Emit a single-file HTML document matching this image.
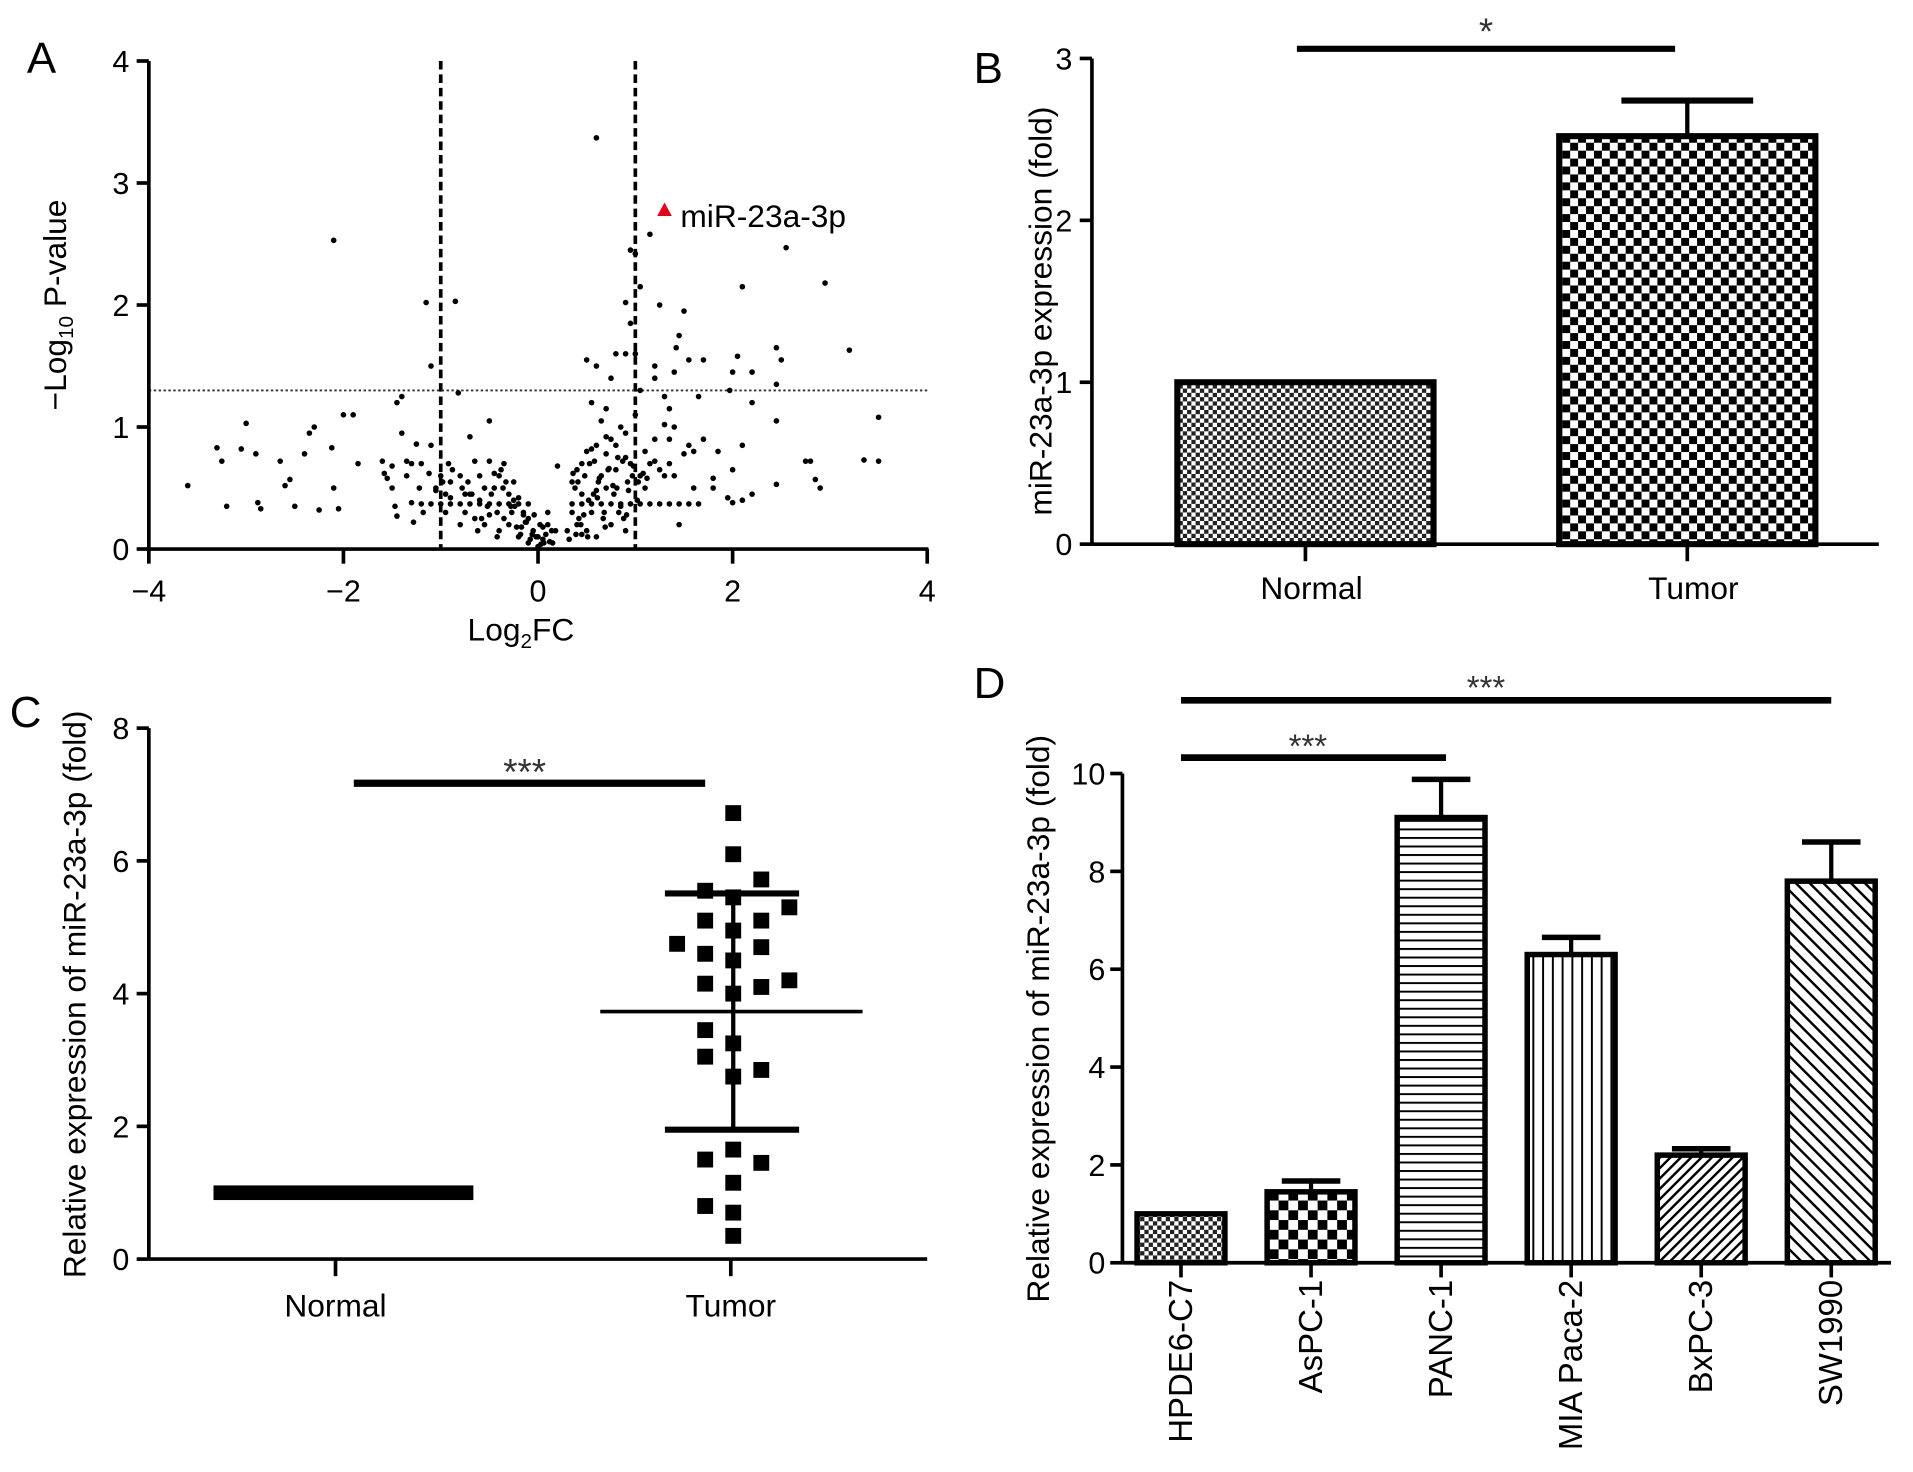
<!DOCTYPE html>
<html><head><meta charset="utf-8"><style>
html,body{margin:0;padding:0;background:#fff;}
svg{display:block;font-family:"Liberation Sans",Arial,sans-serif;}
</style></head><body>
<svg id="fig" width="1913" height="1472" viewBox="0 0 1568 1206.5" preserveAspectRatio="none" xmlns="http://www.w3.org/2000/svg">
<defs>
<pattern id="pFine" width="7" height="7" patternUnits="userSpaceOnUse"><rect width="7" height="7" fill="#fff"/><rect width="3.5" height="3.5" fill="#222"/><rect x="3.5" y="3.5" width="3.5" height="3.5" fill="#222"/></pattern>
<pattern id="pCheck" width="13" height="13" patternUnits="userSpaceOnUse"><rect width="13" height="13" fill="#fff"/><rect width="6.5" height="6.5" fill="#000"/><rect x="6.5" y="6.5" width="6.5" height="6.5" fill="#000"/></pattern>
<pattern id="pCheck2" width="16" height="16" patternUnits="userSpaceOnUse"><rect width="16" height="16" fill="#fff"/><rect width="8" height="8" fill="#000"/><rect x="8" y="8" width="8" height="8" fill="#000"/></pattern>
<pattern id="pHor" width="8" height="7" patternUnits="userSpaceOnUse"><rect width="8" height="7" fill="#fff"/><rect y="0" width="8" height="1.6" fill="#000"/></pattern>
<pattern id="pVer" width="8" height="8" patternUnits="userSpaceOnUse"><rect width="8" height="8" fill="#fff"/><rect width="1.6" height="8" fill="#000"/></pattern>
<pattern id="pDiag" width="6" height="6" patternUnits="userSpaceOnUse" patternTransform="rotate(45)"><rect width="6" height="6" fill="#fff"/><rect width="2" height="6" fill="#000"/></pattern>
<pattern id="pDiag2" width="8" height="8" patternUnits="userSpaceOnUse" patternTransform="rotate(-45)"><rect width="8" height="8" fill="#fff"/><rect width="2" height="8" fill="#000"/></pattern>
</defs>
</svg>
<script>
// ---------- Panel A data ----------
const aXTicks=[-4,-2,0,2,4];
const aYTicks=[0,1,2,3,4];
const volcanoX=[-3.6,-3.3,-3.25,-3.2,-3.05,-3.0,-2.9,-2.88,-2.85,-2.65,-2.6,-2.55,-2.5,-2.4,-2.35,-2.3,-2.25,-2.1,-2.12,-2.1,-2.0,-1.9,-1.85,-2.05,-1.6,-1.58,-1.55,-1.5,-1.45,-1.4,-1.5,-1.47,-1.45,-1.4,-1.35,-1.3,-1.3,-1.28,-1.25,-1.2,-1.15,-1.1,-1.1,-1.05,-1.0,-0.95,-0.9,-0.85,-0.82,-0.8,-0.75,-0.7,-0.65,-0.6,-0.55,-0.5,-0.5,-0.45,-0.42,-0.4,-0.35,-0.3,-0.3,-0.25,-0.2,-0.15,-0.1,-0.05,0,0.05,0.1,0.15,0.2,-0.6,-0.55,-0.48,-0.4,-0.35,-0.28,-0.22,-0.18,-0.12,-0.08,-0.02,0.03,0.08,0.12,0.18,-0.7,-0.65,-0.9,-1.05,-1.12,-0.98,-0.78,-0.62,-0.52,-0.38,-0.25,-0.15,0.0,0.1,
-0.95,-0.88,-0.8,-0.72,-0.68,-0.58,-0.45,-0.42,-0.33,-0.27,-0.2,-0.17,-0.1,-0.06,0.02,0.06,0.14,-1.35,-1.22,-1.18,-0.92,-0.75,-0.5,-0.36,-0.24,-0.13,-0.04,0.05,
0.6,0.9,0.95,0.95,1.0,1.05,1.15,1.25,1.5,1.45,1.42,2.1,2.55,2.95,3.2,2.45,2.5,2.05,2.2,2.0,1.7,1.55,1.4,1.2,1.2,0.9,0.5,0.6,0.75,0.8,1.0,1.3,1.35,1.65,1.97,2.2,2.45,2.45,3.5,3.35,3.5,2.75,2.8,2.85,2.9,2.45,2.2,2.1,2.0,1.95,1.8,1.8,1.85,2.0,2.1,1.7,1.6,1.55,1.5,1.4,1.35,1.3,1.2,1.1,0.9,0.85,0.75,0.7,0.6,0.55,0.5,0.45,0.4,0.35,0.35,0.4,0.45,0.5,0.55,0.6,0.65,0.7,0.75,0.8,0.85,0.9,0.95,1.05,1.1,1.15,1.25,1.3,1.35,1.45,1.0,1.05,0.7,0.55,0.65,0.38,0.42,0.48,0.52,0.58,0.62,0.68,0.72,0.78,0.82,0.88,0.92,0.98,1.02,1.08,1.12,0.3,0.32,0.45,0.6,0.7,0.8,0.9,1.2,1.4,1.6,
0.36,0.41,0.47,0.53,0.57,0.63,0.67,0.73,0.77,0.83,0.87,0.93,0.97,1.03,0.39,0.44,0.51,0.61,0.69,0.81,0.91,
-1.2,-1.1,-1.0,-0.9,-0.8,-0.7,-0.6,-0.5,-0.4,-0.3,-0.2,-0.1,0.35,0.45,0.55,0.65,0.75,0.85,0.95,1.05,1.15,1.25,1.35,1.45,1.55,1.65];
const volcanoY=[0.52,0.83,0.72,0.35,0.82,1.03,0.78,0.38,0.33,0.72,0.52,0.57,0.35,0.78,0.95,1.0,0.32,2.53,0.83,0.5,1.1,1.1,0.7,0.33,0.72,0.62,0.58,0.5,1.2,1.25,0.68,0.35,0.27,0.95,0.72,0.7,0.38,0.22,0.86,0.7,2.02,1.5,0.85,0.5,0.6,0.45,0.55,2.03,1.28,0.6,0.3,0.92,0.72,0.4,0.2,1.05,0.72,0.5,0.3,0.15,0.7,0.45,0.2,0.55,0.1,0.3,0.05,0.15,0.02,0.08,0.2,0.05,0.68,0.6,0.5,0.45,0.6,0.25,0.35,0.18,0.12,0.22,0.08,0.1,0.04,0.12,0.06,0.15,0.45,0.25,0.42,0.48,0.62,0.55,0.5,0.15,0.35,0.65,0.4,0.28,0.1,0.3,
0.3,0.65,0.2,0.55,0.45,0.25,0.62,0.1,0.55,0.3,0.42,0.18,0.25,0.12,0.2,0.05,0.15,0.6,0.5,0.3,0.7,0.45,0.28,0.5,0.35,0.22,0.28,0.18,
3.37,2.02,1.85,2.45,2.42,2.15,2.58,2.0,1.95,1.75,1.65,2.15,2.47,2.18,1.63,1.65,1.55,1.58,1.45,1.45,1.55,1.55,1.45,1.5,1.4,1.6,1.55,1.5,1.4,1.6,1.6,1.25,1.15,1.25,1.3,1.2,1.35,1.05,1.08,0.73,0.72,0.72,0.72,0.57,0.5,0.53,0.45,0.4,0.38,0.42,0.5,0.58,0.8,0.65,0.85,0.9,0.8,0.85,0.78,1.0,0.9,1.02,0.9,0.8,0.75,1.0,0.9,0.92,0.85,0.82,0.8,0.7,0.65,0.55,0.3,0.2,0.45,0.15,0.3,0.1,0.6,0.5,0.2,0.65,0.35,0.15,0.7,0.6,0.5,0.7,0.65,0.6,0.7,0.2,1.1,1.3,1.15,1.2,1.05,0.5,0.25,0.6,0.4,0.72,0.55,0.3,0.65,0.45,0.75,0.25,0.55,0.68,0.4,0.62,0.58,0.15,0.08,0.12,0.48,0.78,0.85,0.95,0.72,0.6,0.5,
0.62,0.55,0.28,0.7,0.45,0.58,0.25,0.66,0.52,0.3,0.72,0.48,0.6,0.55,0.12,0.2,0.1,0.42,0.18,0.5,0.28,
0.37,0.37,0.37,0.37,0.37,0.37,0.37,0.37,0.37,0.37,0.37,0.37,0.37,0.37,0.37,0.37,0.37,0.37,0.37,0.37,0.37,0.37,0.37,0.37,0.37,0.37];
const aThreshX=[-1,1];
const aThreshY=[1.3];
const hiLabel="miR-23a-3p"; const hiX=[1.3]; const hiY=[2.78];

// ---------- Panel B data ----------
const bCats=["Normal","Tumor"];
const bVals=[1.0,2.52];
const bErr=[0,0.22];
const bYTicks=[0,1,2,3];

// ---------- Panel C data ----------
const cCats=["Normal","Tumor"];
const cYTicks=[0,2,4,6,8];
const cTumorVals=[6.72,6.1,5.72,5.55,5.45,5.3,5.1,5.1,4.95,4.75,4.7,4.6,4.5,4.15,4.2,4.1,4.0,3.45,3.25,3.05,2.85,2.75,1.65,1.5,1.45,1.15,0.8,0.7,0.35];
const cTumorJitter=[0,0,1,-1,0,2,-1,1,0,-2,1,-1,0,-1,2,1,0,-1,0,-1,1,0,0,-1,1,0,-1,0,0];
const cNormalMean=[1.0];
const cTumorMean=[3.73];
const cTumorSD=[1.78];

// ---------- Panel D data ----------
const dCats=["HPDE6-C7","AsPC-1","PANC-1","MIA Paca-2","BxPC-3","SW1990"];
const dVals=[1.0,1.45,9.1,6.3,2.2,7.8];
const dErr=[0,0.22,0.78,0.35,0.13,0.8];
const dYTicks=[0,2,4,6,8,10];
const dFills=["url(#pFine)","url(#pCheck2)","url(#pHor)","url(#pVer)","url(#pDiag)","url(#pDiag2)"];

const NS="http://www.w3.org/2000/svg";
const svg=document.getElementById('fig');
function mk(tag,attrs,parent,text){const e=document.createElementNS(NS,tag);for(const k in attrs)e.setAttribute(k,attrs[k]);if(text!==undefined)e.textContent=text;(parent||svg).appendChild(e);return e;}
function grp(name){const g=mk('g',{});return g;}
const TK=25, TT=26, LF=36;

// ===== Panel A =====
{
const g=grp('panel-a-volcano');
const X=v=>441+v*(760-122)/8, Y=v=>450-v*100;
const lbl=mk('text',{x:22,y:60,'font-size':LF},g,'A');

aThreshX.forEach(t=>{const l=mk('line',{x1:X(t),x2:X(t),y1:Y(4),y2:Y(0),stroke:'#000','stroke-width':3,'stroke-dasharray':'7,4'},g);});
aThreshY.forEach(t=>{const l=mk('line',{x1:X(-4),x2:X(4),y1:Y(t),y2:Y(t),stroke:'#333','stroke-width':1.5,'stroke-dasharray':'2,2'},g);});
volcanoX.forEach((x,i)=>{const c=mk('circle',{cx:X(x),cy:Y(volcanoY[i]),r:2.3,fill:'#000'},g);});
const ya=mk('line',{x1:X(-4),x2:X(-4),y1:Y(4),y2:Y(0)+2,stroke:'#000','stroke-width':3},g);
const xa=mk('line',{x1:X(-4)-2,x2:X(4)+1,y1:Y(0),y2:Y(0),stroke:'#000','stroke-width':3},g);
aYTicks.forEach(t=>{mk('line',{x1:X(-4)-10,x2:X(-4),y1:Y(t),y2:Y(t),stroke:'#000','stroke-width':3},g);const tx=mk('text',{x:X(-4)-16,y:Y(t)+9,'font-size':TK,'text-anchor':'end'},g,t);});
aXTicks.forEach(t=>{mk('line',{x1:X(t),x2:X(t),y1:Y(0),y2:Y(0)+12,stroke:'#000','stroke-width':3},g);const tx=mk('text',{x:X(t),y:Y(0)+43,'font-size':TK,'text-anchor':'middle'},g,t<0?'\u2212'+(-t):t);});
const tri=mk('polygon',{points:`${X(hiX[0])-6},${Y(hiY[0])+5} ${X(hiX[0])+6},${Y(hiY[0])+5} ${X(hiX[0])},${Y(hiY[0])-6}`,fill:'#e0001a'},g);
const ht=mk('text',{x:X(hiX[0])+13,y:Y(hiY[0])+14,'font-size':TT},g,hiLabel);
const xt=mk('text',{x:427,y:525,'font-size':TT,'text-anchor':'middle'},g);
xt.innerHTML='Log<tspan font-size="17" dy="6">2</tspan><tspan dy="-6">FC</tspan>';
const yt=mk('text',{transform:'translate(54,250) rotate(-90)','font-size':TT,'text-anchor':'middle'},g);
yt.innerHTML='\u2212Log<tspan font-size="17" dy="6">10</tspan><tspan dy="-6"> P-value</tspan>';
}

// ===== Panel B =====
{
const g=grp('panel-b-bar-chart');
const Y=v=>446-v*132.7;
const x0=895,x1=1540;
const cx=[1070,1383], bw=210;
const l=mk('text',{x:798,y:68,'font-size':LF},g,'B');
const fills=['url(#pFine)','url(#pCheck)'];
bCats.forEach((c,i)=>{
 if(bErr[i]>0){mk('line',{x1:cx[i],x2:cx[i],y1:Y(bVals[i]),y2:Y(bVals[i]+bErr[i]),stroke:'#000','stroke-width':3.5},g);mk('line',{x1:cx[i]-54,x2:cx[i]+54,y1:Y(bVals[i]+bErr[i]),y2:Y(bVals[i]+bErr[i]),stroke:'#000','stroke-width':5},g);}
 const r=mk('rect',{x:cx[i]-bw/2,y:Y(bVals[i]),width:bw,height:Y(0)-Y(bVals[i]),fill:fills[i],stroke:'#000','stroke-width':5},g);
 mk('line',{x1:cx[i],x2:cx[i],y1:Y(0),y2:Y(0)+14,stroke:'#000','stroke-width':3},g);
 const t=mk('text',{x:cx[i]+5,y:Y(0)+45,'font-size':TT,'text-anchor':'middle'},g,c);
});
const ya=mk('line',{x1:x0,x2:x0,y1:Y(3),y2:Y(0),stroke:'#000','stroke-width':3},g);
const xa=mk('line',{x1:x0,x2:x1,y1:Y(0),y2:Y(0),stroke:'#000','stroke-width':3},g);
bYTicks.forEach(t=>{mk('line',{x1:x0-10,x2:x0,y1:Y(t),y2:Y(t),stroke:'#000','stroke-width':3},g);const tx=mk('text',{x:x0-16,y:Y(t)+9,'font-size':TK,'text-anchor':'end'},g,t);});
const s=mk('line',{x1:1063,x2:1373,y1:40,y2:40,stroke:'#000','stroke-width':5},g);
const st=mk('text',{x:1218,y:36,'font-size':30,'text-anchor':'middle',fill:'#333'},g,'*');
const yt=mk('text',{transform:'translate(862,255) rotate(-90)','font-size':TT,'text-anchor':'middle'},g,'miR-23a-3p expression (fold)');
}

// ===== Panel C =====
{
const g=grp('panel-c-scatter');
const Y=v=>1032-v*54.4;
const x0=122,x1=760,cx=[277,601];
const l=mk('text',{x:8,y:596,'font-size':LF},g,'C');
const nm=mk('rect',{x:175,y:Y(cNormalMean[0])-6,width:213,height:12,fill:'#000'},g);
cTumorVals.forEach((v,i)=>{const r=mk('rect',{x:cx[1]+cTumorJitter[i]*23-6.5,y:Y(v)-6.5,width:13,height:13,fill:'#000'},g);});
const m=mk('line',{x1:492,x2:707,y1:Y(cTumorMean[0]),y2:Y(cTumorMean[0]),stroke:'#000','stroke-width':3},g);
[cTumorMean[0]+cTumorSD[0],cTumorMean[0]-cTumorSD[0]].forEach(v=>{const e=mk('line',{x1:545,x2:655,y1:Y(v),y2:Y(v),stroke:'#000','stroke-width':5},g);});
mk('line',{x1:cx[1],x2:cx[1],y1:Y(cTumorMean[0]+cTumorSD[0]),y2:Y(cTumorMean[0]-cTumorSD[0]),stroke:'#000','stroke-width':3.5},g);
const ya=mk('line',{x1:x0,x2:x0,y1:Y(8),y2:Y(0),stroke:'#000','stroke-width':3},g);
const xa=mk('line',{x1:x0,x2:x1,y1:Y(0),y2:Y(0),stroke:'#000','stroke-width':3},g);
cYTicks.forEach(t=>{mk('line',{x1:x0-10,x2:x0,y1:Y(t),y2:Y(t),stroke:'#000','stroke-width':3},g);const tx=mk('text',{x:x0-16,y:Y(t)+9,'font-size':TK,'text-anchor':'end'},g,t);});
cCats.forEach((c,i)=>{mk('line',{x1:cx[i]-2,x2:cx[i]-2,y1:Y(0),y2:Y(0)+14,stroke:'#000','stroke-width':3},g);const t=mk('text',{x:cx[i]-2,y:Y(0)+47,'font-size':TT,'text-anchor':'middle'},g,c);});
const s=mk('line',{x1:290,x2:578,y1:642,y2:642,stroke:'#000','stroke-width':6},g);
const st=mk('text',{x:430,y:643,'font-size':30,'text-anchor':'middle',fill:'#333'},g,'***');
const yt=mk('text',{transform:'translate(70,815) rotate(-90)','font-size':TT,'text-anchor':'middle'},g,'Relative expression of miR-23a-3p (fold)');
}

// ===== Panel D =====
{
const g=grp('panel-d-bar-chart');
const Y=v=>1035-v*40.1;
const x0=920,x1=1550,step=106.6,first=968,bw=72;
const X=i=>first+i*step;
const l=mk('text',{x:798,y:572,'font-size':LF},g,'D');
dCats.forEach((c,i)=>{
 if(dErr[i]>0){mk('line',{x1:X(i),x2:X(i),y1:Y(dVals[i]),y2:Y(dVals[i]+dErr[i]),stroke:'#000','stroke-width':3.5},g);mk('line',{x1:X(i)-24,x2:X(i)+24,y1:Y(dVals[i]+dErr[i]),y2:Y(dVals[i]+dErr[i]),stroke:'#000','stroke-width':4.5},g);}
 const r=mk('rect',{x:X(i)-bw/2,y:Y(dVals[i]),width:bw,height:Y(0)-Y(dVals[i]),fill:dFills[i],stroke:'#000','stroke-width':4.5},g);
 mk('line',{x1:X(i),x2:X(i),y1:Y(0),y2:Y(0)+12,stroke:'#000','stroke-width':3},g);
 const t=mk('text',{transform:`translate(${X(i)+9},${Y(0)+14}) rotate(-90)`,'font-size':27,'text-anchor':'end'},g,c);
});
const ya=mk('line',{x1:x0,x2:x0,y1:Y(10),y2:Y(0),stroke:'#000','stroke-width':3},g);
const xa=mk('line',{x1:x0,x2:x1,y1:Y(0),y2:Y(0),stroke:'#000','stroke-width':3},g);
dYTicks.forEach(t=>{mk('line',{x1:x0-10,x2:x0,y1:Y(t),y2:Y(t),stroke:'#000','stroke-width':3},g);const tx=mk('text',{x:x0-14,y:Y(t)+9,'font-size':TK,'text-anchor':'end'},g,t);});
const s1=mk('line',{x1:X(0),x2:X(2)+4,y1:621,y2:621,stroke:'#000','stroke-width':5.5},g);
const t1=mk('text',{x:1072,y:621,'font-size':27,'text-anchor':'middle',fill:'#333'},g,'***');
const s2=mk('line',{x1:X(0),x2:X(5),y1:574,y2:574,stroke:'#000','stroke-width':5.5},g);
const t2=mk('text',{x:1218,y:573,'font-size':27,'text-anchor':'middle',fill:'#333'},g,'***');
const yt=mk('text',{transform:'translate(860,835) rotate(-90)','font-size':TT,'text-anchor':'middle'},g,'Relative expression of miR-23a-3p (fold)');
}
</script>
</body></html>
